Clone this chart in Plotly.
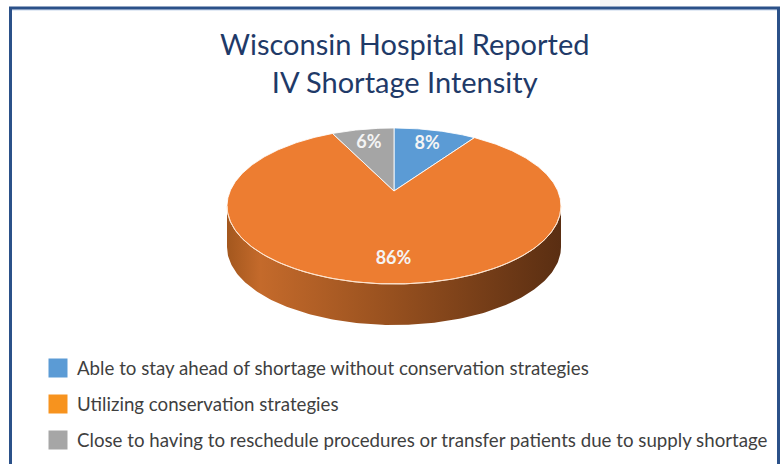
import numpy as np
import plotly.graph_objects as go

# ---- data ----
categories = [
    "Able to stay ahead of shortage without conservation strategies",
    "Utilizing conservation strategies",
    "Close to having to reschedule procedures or transfer patients due to supply shortage",
]
values = [8, 86, 6]
title_lines = ["Wisconsin Hospital Reported", "IV Shortage Intensity"]

# ---- style ----
face_colors = ["#5B9BD5", "#ED7D31", "#A5A5A5"]
legend_colors = ["#5B9BD5", "#F7931E", "#A6A6A6"]
W, H = 781, 464
CX, CY = 394, 206        # ellipse centre (pixels)
APEX_Y = 191             # perspective apex of the slices
RX, RY = 167, 78
DEPTH = 41
FONT = "Lato"

def rim(theta_deg, dy=0.0):
    t = np.radians(theta_deg)
    return CX + RX * np.sin(t), CY - RY * np.cos(t) + dy

fig = go.Figure()

# side wall (visible front half) with gradient
th = np.linspace(90, 270, 181)
ux, uy = rim(th)
lx, ly = rim(th[::-1], DEPTH)
fig.add_trace(go.Scatter(
    x=np.concatenate([ux, lx]), y=np.concatenate([uy, ly]),
    mode="lines", line=dict(width=0), fill="toself",
    fillgradient=dict(type="horizontal",
                      colorscale=[[0, "#A3571E"], [0.1, "#C46A2B"], [0.45, "#9C5320"], [1, "#5A2E12"]]),
    hoverinfo="skip", showlegend=False))

# top face slices
total = sum(values)
start = 0.0
mids = []
for v, col in zip(values, face_colors):
    span = 360.0 * v / total
    a = np.linspace(start, start + span, max(3, int(span * 2)))
    px, py = rim(a)
    fig.add_trace(go.Scatter(
        x=np.concatenate([[CX], px, [CX]]), y=np.concatenate([[APEX_Y], py, [APEX_Y]]),
        mode="lines", line=dict(width=1, color="rgba(255,255,255,0.85)"),
        fill="toself", fillcolor=col, hoverinfo="skip", showlegend=False))
    mids.append(start + span / 2)
    start += span

# rim highlight
hx, hy = rim(np.linspace(90, 270, 181))
fig.add_trace(go.Scatter(x=hx, y=hy, mode="lines",
                         line=dict(width=1, color="rgba(255,225,200,0.9)"),
                         hoverinfo="skip", showlegend=False))

# slice labels
lab_x, lab_y = [], []
for v, m in zip(values, mids):
    f = 0.8 if v < 20 else 0.72
    ex, ey = rim(m)
    lab_x.append(CX + f * (ex - CX) + (7 if v >= 20 else 0))
    lab_y.append(APEX_Y + f * (ey - APEX_Y) + 2)
fig.add_trace(go.Scatter(
    x=lab_x, y=lab_y, mode="text", text=[f"{v}%" for v in values],
    textfont=dict(family=FONT, size=18, color="#F4F4F4", weight="bold"),
    hoverinfo="skip", showlegend=False))

# legend
leg_y = [368 + 36 * i for i in range(len(categories))]
fig.add_trace(go.Scatter(
    x=[58] * len(categories), y=leg_y, mode="markers",
    marker=dict(symbol="square", size=19, color=legend_colors),
    hoverinfo="skip", showlegend=False))
for name, y in zip(categories, leg_y):
    fig.add_annotation(x=75, y=y, xref="x", yref="y", text=name, showarrow=False,
                       xanchor="left", yanchor="middle",
                       font=dict(family=FONT, size=18.7, color="#3F3F3F"))

# title
fig.add_annotation(x=404, y=62, xref="x", yref="y", text="<br>".join(title_lines),
                   showarrow=False, xanchor="center", yanchor="middle",
                   font=dict(family=FONT, size=29, color="#1F3A68"))

# frame
fig.add_shape(type="rect", x0=600, x1=620, y0=0, y1=6, xref="x", yref="y",
              line=dict(width=0), fillcolor="#F3F4F6", layer="below")
fig.add_shape(type="line", x0=12, x1=778, y0=10, y1=10, xref="x", yref="y",
              line=dict(color="#C5D5EC", width=1))
fig.add_shape(type="rect", x0=10.5, x1=778.5, y0=8, y1=472, xref="x", yref="y",
              line=dict(color="#2B5189", width=3))

fig.update_layout(
    width=W, height=H, margin=dict(l=0, r=0, t=0, b=0),
    paper_bgcolor="white", plot_bgcolor="white",
    xaxis=dict(range=[0, W], visible=False, fixedrange=True),
    yaxis=dict(range=[H, 0], visible=False, fixedrange=True),
)
fig.write_html("out.html", config={"displayModeBar": False},
               post_script="document.body.style.margin='0px';document.body.style.overflow='hidden';")
